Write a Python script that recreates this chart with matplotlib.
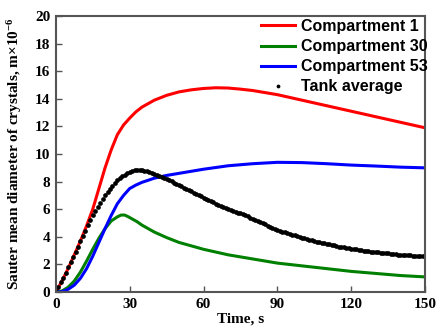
import numpy as np
import matplotlib
matplotlib.use("Agg")
import matplotlib.pyplot as plt

plt.rcParams["mathtext.fontset"] = "custom"
plt.rcParams["mathtext.bf"] = "Liberation Serif:bold"
plt.rcParams["mathtext.rm"] = "Liberation Serif:bold"
plt.rcParams["mathtext.default"] = "bf"

# values
t_red = [0, 2.5, 5, 7.5, 10, 12.5, 15, 17.5, 20, 22.5, 25, 27.5, 30, 32.5, 35, 40, 45, 50, 55, 60, 65, 70, 75, 80,
         85, 90, 100, 110, 120, 130, 140, 150]
y_red = [0, 0.8, 1.7, 2.7, 3.7, 4.8, 6.0, 7.5, 9.0, 10.3, 11.4, 12.1, 12.6, 13.05, 13.4, 13.9, 14.25, 14.5, 14.65,
         14.75, 14.8, 14.78, 14.7, 14.6, 14.45, 14.3, 13.9, 13.5, 13.1, 12.7, 12.3, 11.9]

t_green = [0, 2.5, 5, 7.5, 10, 12.5, 15, 17.5, 20, 22.5, 25, 26.5, 28, 29.5, 31, 33, 35, 37.5, 40, 45, 50, 55, 60,
           70, 80, 90, 100, 110, 120, 130, 140, 150]
y_green = [0, 0.08, 0.35, 0.8, 1.45, 2.25, 3.1, 3.9, 4.6, 5.15, 5.45, 5.58, 5.58, 5.45, 5.3, 5.1, 4.85, 4.6, 4.35,
           3.95, 3.6, 3.35, 3.1, 2.7, 2.4, 2.1, 1.9, 1.7, 1.5, 1.35, 1.2, 1.1]

t_blue = [0, 2.5, 5, 7.5, 10, 12.5, 15, 17.5, 20, 22.5, 25, 27.5, 30, 32.5, 35, 37.5, 40, 45, 50, 60, 70, 80, 90,
          100, 110, 120, 130, 140, 150]
y_blue = [0, 0.03, 0.2, 0.5, 1.0, 1.7, 2.6, 3.6, 4.6, 5.55, 6.4, 7.0, 7.5, 7.75, 7.95, 8.1, 8.25, 8.45, 8.6, 8.9,
          9.15, 9.3, 9.4, 9.38, 9.3, 9.2, 9.13, 9.05, 9.0]

t_avg = list(range(0, 151))
y_avg = [0.0, 0.35, 0.7, 1.05, 1.4, 1.8, 2.15, 2.55, 2.9, 3.3, 3.7, 4.05, 4.45, 4.85, 5.2, 5.55, 5.85, 6.15, 6.45, 6.75,
         7.0, 7.25, 7.5, 7.7, 7.9, 8.1, 8.25, 8.4, 8.5, 8.6, 8.7, 8.77, 8.82, 8.85, 8.85, 8.83, 8.8, 8.75, 8.7, 8.62,
         8.55, 8.48, 8.4, 8.33, 8.26, 8.2, 8.11, 8.02, 7.93, 7.84, 7.75, 7.66, 7.57, 7.48, 7.39, 7.3, 7.21, 7.12, 7.03,
         6.94, 6.85, 6.76, 6.67, 6.58, 6.49, 6.4, 6.32, 6.24, 6.16, 6.08, 6.0, 5.94, 5.88, 5.82, 5.76, 5.7, 5.63, 5.56,
         5.49, 5.4, 5.3, 5.22, 5.14, 5.06, 4.98, 4.9, 4.82, 4.74, 4.66, 4.58, 4.5, 4.44, 4.38, 4.32, 4.26, 4.2, 4.15,
         4.1, 4.05, 4.0, 3.95, 3.9, 3.85, 3.8, 3.75, 3.7, 3.66, 3.62, 3.58, 3.54, 3.5, 3.46, 3.42, 3.38, 3.34, 3.3,
         3.27, 3.24, 3.21, 3.18, 3.15, 3.12, 3.09, 3.06, 3.03, 3.0, 2.98, 2.96, 2.94, 2.92, 2.9, 2.88, 2.86, 2.84,
         2.82, 2.8, 2.78, 2.76, 2.74, 2.72, 2.7, 2.69, 2.68, 2.67, 2.66, 2.65, 2.64, 2.63, 2.62, 2.61, 2.6]

xticks = [0, 30, 60, 90, 120, 150]
yticks = [0, 2, 4, 6, 8, 10, 12, 14, 16, 18, 20]

serif = {"family": "Liberation Serif", "weight": "bold", "size": 11}

fig = plt.figure(figsize=(4.36, 3.26), dpi=100)
ax = fig.add_axes([0.128, 0.104, 0.847, 0.847])

ax.plot(t_red, y_red, color="#ff0000", lw=2.2, label="Compartment 1")
ax.plot(t_green, y_green, color="#008000", lw=2.2, label="Compartment 30")
ax.plot(t_blue, y_blue, color="#0000ff", lw=2.2, label="Compartment 53")
ax.plot(t_avg, y_avg, "o", color="black", ms=3.4, mew=0, label="Tank average")

ax.set_xlim(0, 150)
ax.set_ylim(0, 20)
ax.set_xticks(xticks)
ax.set_yticks(yticks)
ax.tick_params(direction="in", length=4, width=1, color="#555555", pad=4)
for lab in ax.get_xticklabels() + ax.get_yticklabels():
    lab.set_fontproperties(serif)
for sp in ax.spines.values():
    sp.set_color("#555555")
    sp.set_linewidth(1.5)

ax.set_xlabel("Time, s", fontdict=serif, labelpad=1)
ax.set_ylabel("Sauter mean diameter of crystals, m\u00d710$^{-6}$", fontdict=serif, labelpad=8)

leg = ax.legend(loc="upper right", bbox_to_anchor=(428 / 436, 1 - 19 / 326), bbox_transform=fig.transFigure,
                frameon=False, prop={"family": "Liberation Sans", "weight": "bold", "size": 11.5},
                handlelength=2.1, handletextpad=0.4, labelspacing=0.32, borderpad=0, borderaxespad=0,
                markerscale=0.8)

fig.savefig("out.png", dpi=100)
